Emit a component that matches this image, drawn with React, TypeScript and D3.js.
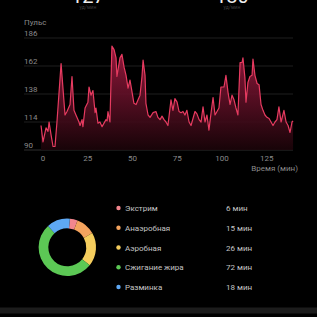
import { useEffect, useRef } from "react"
import * as d3 from "d3"

// heart rate samples (minutes, bpm)
const minutes = [
  -1.1, 0, 1.7, 2.8, 3.4, 4.5, 5.6, 6.7, 7.8, 10.1, 12.3, 13.4, 15.1, 16.2, 17.3, 18.4, 20.1, 20.7,
  21.8, 22.3, 23.5, 25.1, 25.7, 26.8, 27.9, 29.1, 29.6, 30.7, 31.8, 33.0, 34.1, 35.2, 35.8, 36.3,
  37.4, 38.5, 39.7, 40.8, 41.3, 43.0, 44.1, 45.3, 46.4, 47.5, 48.6, 49.7, 50.8, 52.0, 53.1, 54.2,
  55.3, 55.9, 57.0, 57.5, 58.7, 59.8, 61.5, 63.1, 64.2, 65.4, 66.5, 67.6, 68.7, 69.8, 71.5, 72.6,
  73.7, 74.9, 76.0, 77.1, 78.2, 79.3, 80.4, 81.6, 82.7, 83.8, 84.9, 86.0, 87.2, 88.3, 89.4, 90.5,
  91.6, 92.7, 93.9, 95.0, 96.1, 97.2, 98.3, 99.4, 101.1, 102.2, 103.4, 104.5, 105.6, 106.7, 107.8,
  108.9, 110.1, 111.2, 111.7, 112.8, 113.4, 114.5, 115.6, 116.8, 117.3, 118.4, 119.6, 120.7, 121.8,
  122.9, 124.0, 125.1, 126.3, 127.4, 128.5, 129.6, 130.7, 131.8, 133.0, 133.5, 134.6, 135.8, 136.9,
  138.0, 139.1, 139.7,
]
const bpm = [
  111, 97, 109, 106, 114, 103, 93, 93, 114, 164, 120, 123, 129, 153, 124, 120, 114, 111,
  116, 110, 126, 131, 144, 137, 141, 122, 126, 113, 114, 110, 113, 116, 115, 123,
  114, 179, 176, 169, 153, 169, 172, 161, 154, 143, 150, 140, 130, 129, 133, 137,
  153, 167, 154, 130, 120, 118, 122, 123, 118, 116, 119, 116, 114, 111, 133, 124,
  134, 131, 123, 122, 123, 120, 124, 114, 111, 117, 123, 121, 116, 114, 127, 114,
  120, 107, 122, 135, 120, 123, 126, 144, 144, 154, 139, 129, 137, 133, 126,
  120, 165, 165, 169, 152, 131, 148, 153, 154, 168, 154, 147, 146, 129,
  124, 120, 118, 117, 114, 111, 114, 116, 127, 114, 117, 124, 114, 111,
  105, 114, 115,
]
const yTicks = [90, 114, 138, 162, 186]
const xTicks = [0, 25, 50, 75, 100, 125]

// summary values at the top (cut off by the frame)
const summaryValues = ["127", "180"]

// zones
const zoneNames = ["Экстрим", "Анаэробная", "Аэробная", "Сжигание жира", "Разминка"]
const zoneMinutes = [6, 15, 26, 72, 18]
const zoneColors = ["#f2868e", "#f4a35e", "#f5cd5d", "#5cc855", "#5ea8f4"]

export default function App() {
  const svgRef = useRef<SVGSVGElement>(null)

  useEffect(() => {
    if (!svgRef.current) return
    const svg = d3.select(svgRef.current)
    svg.selectAll("*").remove()

    const font = "Roboto, 'Noto Sans', sans-serif"

    svg.append("rect").attr("width", 317).attr("height", 317).attr("fill", "#000")

    // top summary
    const topX = d3.scalePoint<string>().domain(summaryValues).range([88, 232])
    summaryValues.forEach((v) => {
      svg.append("text").attr("x", topX(v)!).attr("y", 3).attr("text-anchor", "middle")
        .attr("fill", "#eee").style("font-family", font).style("font-size", "20px").text(v)
      svg.append("text").attr("x", topX(v)!).attr("y", 9).attr("text-anchor", "middle")
        .attr("fill", "#3c3c3c").style("font-family", font).style("font-size", "5px").text("уд/мин")
    })

    const x = d3.scaleLinear().domain([0, 125]).range([43, 266.75])
    const y = d3.scaleLinear().domain([90, 186]).range([150, 38])

    svg.append("text").attr("x", 24).attr("y", 25).attr("fill", "#8a8a8a")
      .style("font-family", font).style("font-size", "8px").text("Пульс")

    // grid
    const grid = svg.append("g")
    yTicks.forEach((t) => {
      grid.append("line").attr("x1", 24).attr("x2", 293).attr("y1", y(t)).attr("y2", y(t))
        .attr("stroke", t === 90 ? "#3a3a3a" : "#262626").attr("stroke-width", 0.8)
      grid.append("text").attr("x", 24).attr("y", y(t) - 2).attr("fill", "#8a8a8a")
        .style("font-family", font).style("font-size", "8px").text(t)
    })
    xTicks.forEach((t) => {
      grid.append("text").attr("x", x(t)).attr("y", 161).attr("text-anchor", "middle")
        .attr("fill", "#8a8a8a").style("font-family", font).style("font-size", "8px").text(t)
    })
    svg.append("text").attr("x", 298).attr("y", 171).attr("text-anchor", "end")
      .attr("fill", "#8a8a8a").style("font-family", font).style("font-size", "8px").text("Время (мин)")

    const defs = svg.append("defs")
    const grad = defs.append("linearGradient").attr("id", "hrFill")
      .attr("gradientUnits", "userSpaceOnUse").attr("x1", 0).attr("x2", 0)
      .attr("y1", y(186)).attr("y2", y(90))
    grad.append("stop").attr("offset", "0%").attr("stop-color", "#a81b44").attr("stop-opacity", 0.95)
    grad.append("stop").attr("offset", "55%").attr("stop-color", "#5c0f25").attr("stop-opacity", 0.9)
    grad.append("stop").attr("offset", "100%").attr("stop-color", "#1a0409").attr("stop-opacity", 0.9)

    const data = minutes.map((m, i) => ({ m, v: bpm[i] }))

    const area = d3.area<{ m: number; v: number }>()
      .x((d) => x(d.m)).y0(y(90)).y1((d) => y(d.v))
    const line = d3.line<{ m: number; v: number }>()
      .x((d) => x(d.m)).y((d) => y(d.v))

    svg.append("path").datum(data).attr("d", area).attr("fill", "url(#hrFill)")
    svg.append("path").datum(data).attr("d", line).attr("fill", "none")
      .attr("stroke", "#e63b60").attr("stroke-width", 1.2).attr("stroke-linejoin", "round")

    // donut
    const pie = d3.pie<number>().sort(null).value((d) => d)
      .startAngle(0.09).endAngle(0.09 + Math.PI * 2)
    const arc = d3.arc<d3.PieArcDatum<number>>().innerRadius(19).outerRadius(28.7)
    const donut = svg.append("g").attr("transform", "translate(67.3,247.3)")
    donut.selectAll("path").data(pie(zoneMinutes)).enter().append("path")
      .attr("d", arc).attr("fill", (_, i) => zoneColors[i])

    // legend
    const legendY = d3.scaleLinear().domain([0, 4]).range([208, 287])
    zoneNames.forEach((name, i) => {
      const ly = legendY(i)
      svg.append("circle").attr("cx", 118.5).attr("cy", ly).attr("r", 2.2).attr("fill", zoneColors[i])
      svg.append("text").attr("x", 125).attr("y", ly + 3).attr("fill", "#c4c4c4")
        .style("font-family", font).style("font-size", "8px").text(name)
      svg.append("text").attr("x", 226).attr("y", ly + 3).attr("fill", "#c4c4c4")
        .style("font-family", font).style("font-size", "8px").text(`${zoneMinutes[i]} мин`)
    })

    svg.append("rect").attr("x", 0).attr("y", 307.5).attr("width", 317).attr("height", 6)
      .attr("fill", "#1c1c1c")
  }, [])

  return (
    <div style={{ position: "fixed", left: 0, top: 0, width: 317, height: 317, background: "#000" }}>
      <svg ref={svgRef} width={317} height={317} style={{ display: "block" }}></svg>
    </div>
  )
}
